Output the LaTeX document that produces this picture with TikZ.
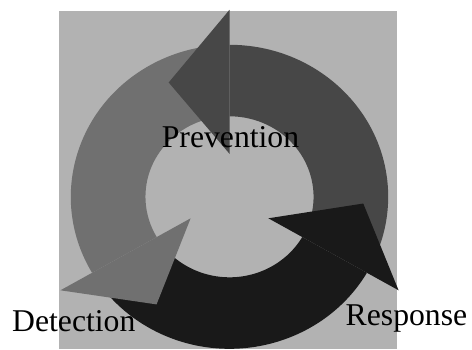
\documentclass[tikz,border=0pt]{standalone}
\usepackage{fontspec}
\setmainfont{Liberation Serif}
\definecolor{panelgray}{RGB}{178,178,178}
\definecolor{arcmid}{RGB}{112,112,112}
\definecolor{arcdark}{RGB}{71,71,71}
\definecolor{arcblack}{RGB}{25,25,25}
\begin{document}
\begin{tikzpicture}[x=1pt,y=1pt,
  lbl/.style={font=\fontsize{31.7}{38}\selectfont, inner sep=0pt, text=black}]
\useasboundingbox (0,0) rectangle (472,349);
% square panel behind the cycle
\fill[panelgray] (59.3,0) rectangle (396.7,338);
\begin{scope}[shift={(229.5,152.2)}, xscale=1.044]
  % ring segments (tails end under the following arrowhead)
  \foreach \h/\c in {90/arcdark, 210/arcmid, 330/arcblack}{
    \pgfmathsetmacro\t{\h-117}
    \fill[\c] (\t:80.5pt) arc[start angle=\t, end angle=\h, radius=80.5pt]
      -- (\h:152pt) arc[start angle=\h, end angle=\t, radius=152pt] -- cycle;
  }
  % arrowheads, drawn last so each covers the previous tail
  \foreach \h/\c in {90/arcdark, 210/arcmid, 330/arcblack}{
    \pgfmathsetmacro\p{\h+27}
    \fill[\c] (\h:43pt) -- (\h:187pt) -- (\p:128.3pt) -- cycle;
  }
\end{scope}
\node[lbl, anchor=base] (prevention) at (230.5,201.5) {Prevention};
\node[lbl, anchor=base west] (detection) at (12,17.3) {Detection};
\node[lbl, anchor=base west] (response) at (345.5,23.2) {Response};
\end{tikzpicture}
\end{document}
